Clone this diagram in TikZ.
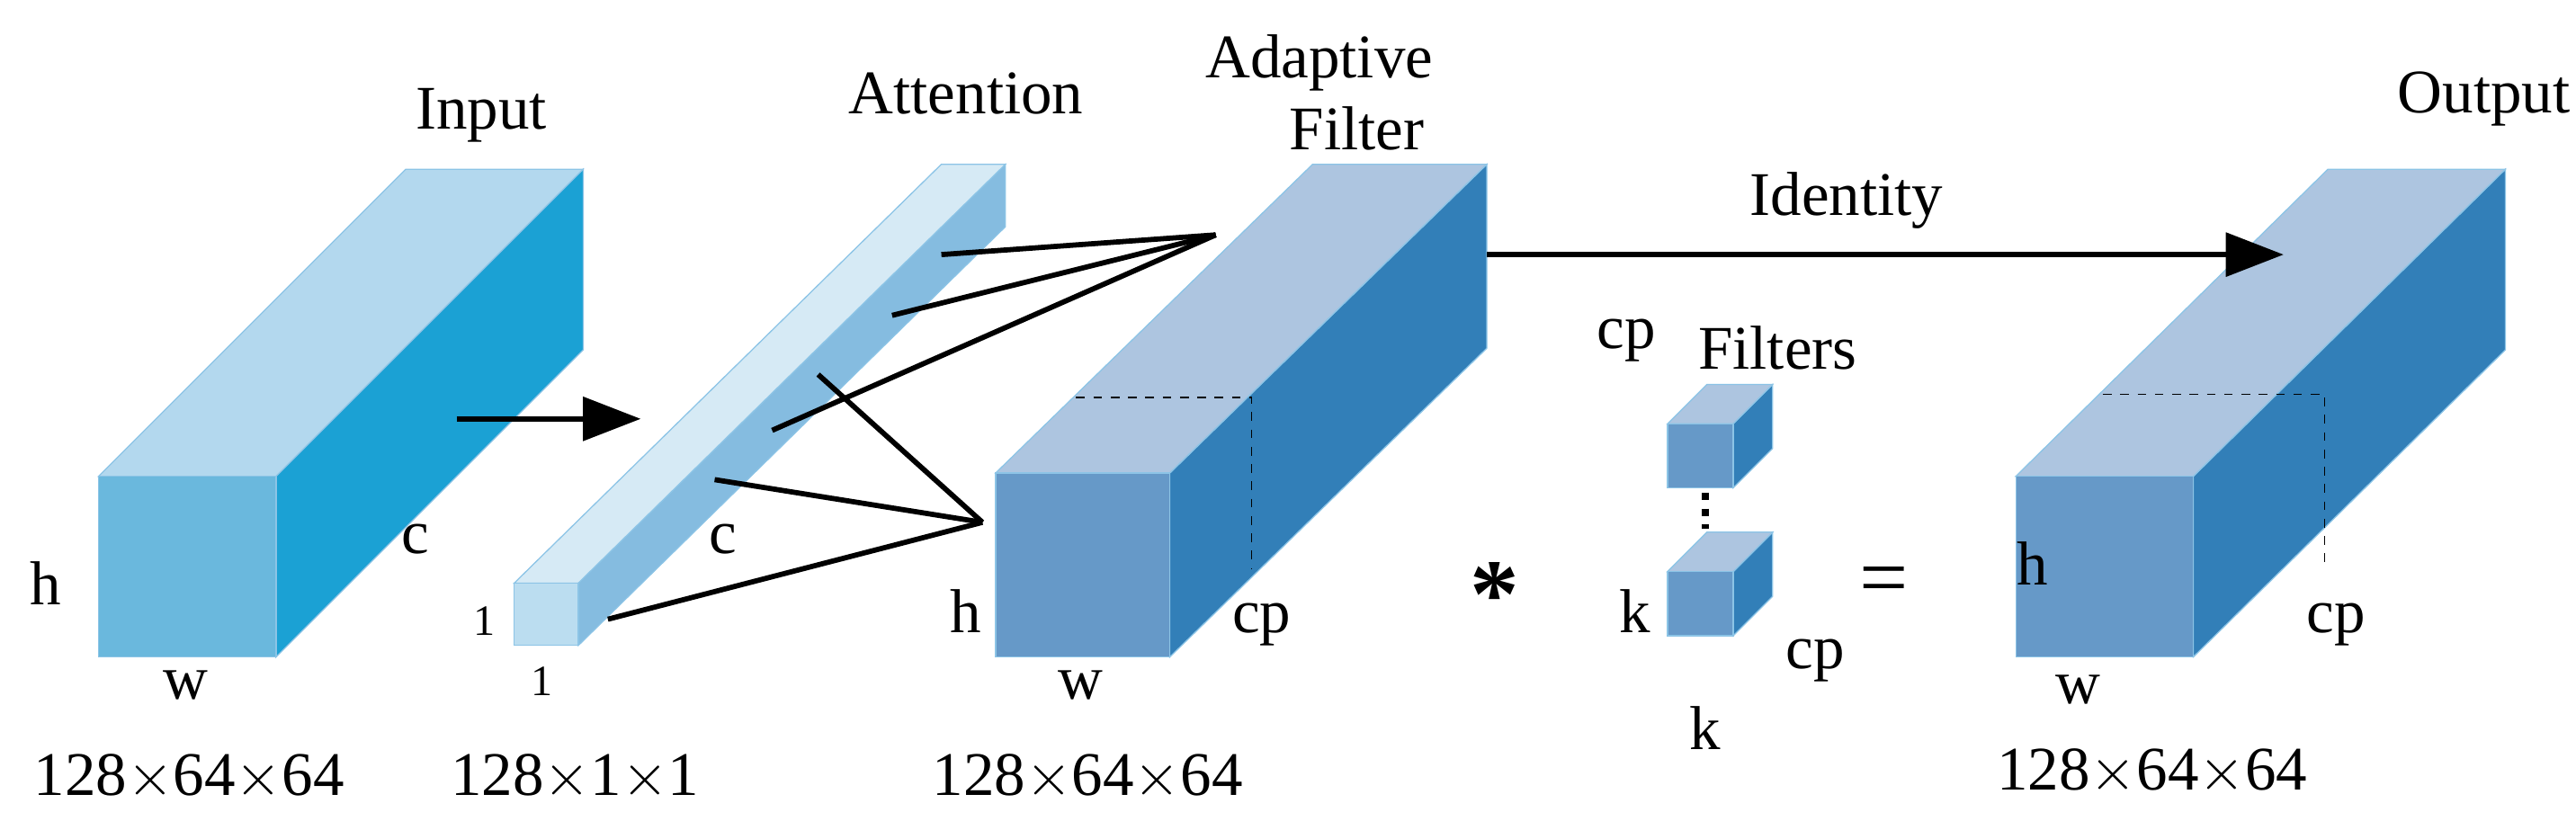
\documentclass[tikz,border=0pt]{standalone}
\usepackage{fontspec}
\setmainfont{Liberation Serif}
\usetikzlibrary{arrows.meta}
\definecolor{inFront}{HTML}{6AB8DD}
\definecolor{inTop}{HTML}{B3D8EE}
\definecolor{inSide}{HTML}{1BA1D4}
\definecolor{atFront}{HTML}{BBDDF0}
\definecolor{atTop}{HTML}{D6EAF5}
\definecolor{atSide}{HTML}{85BCE0}
\definecolor{afFront}{HTML}{6699C8}
\definecolor{afTop}{HTML}{ADC5E0}
\definecolor{afSide}{HTML}{327FB8}
\definecolor{edge}{HTML}{8CC4E6}
% cuboid: x y (front top-left), w h, dx dy (depth), front, top, side
\newcommand{\cuboid}[9]{%
\fill[#9,draw=edge,thin] (#1+#3,#2) -- (#1+#3+#5,#2-#6) -- (#1+#3+#5,#2+#4-#6) -- (#1+#3,#2+#4) -- cycle;
\fill[#8,draw=edge,thin] (#1,#2) -- (#1+#5,#2-#6) -- (#1+#3+#5,#2-#6) -- (#1+#3,#2) -- cycle;
\fill[#7,draw=edge,thin] (#1,#2) rectangle (#1+#3,#2+#4);}
\begin{document}
\begin{tikzpicture}[x=0.02cm,y=-0.02cm,
  every node/.style={font=\fontsize{21.5}{24}\selectfont,inner sep=0pt},
  link/.style={line width=1.8pt},
  flow/.style={line width=1.8pt,-{Triangle[length=20pt,width=15pt]}}]
\useasboundingbox (0,0) rectangle (1568,505);
% blocks
\cuboid{60}{290}{108}{110}{187}{187}{inFront}{inTop}{inSide}
\cuboid{313}{355}{39}{38}{260}{255}{atFront}{atTop}{atSide}
\cuboid{606}{288}{106}{112}{193}{188}{afFront}{afTop}{afSide}
\cuboid{1227}{290}{108}{110}{190}{187}{afFront}{afTop}{afSide}
\cuboid{1015}{258}{40}{39}{24}{24}{afFront}{afTop}{afSide}
\cuboid{1015}{348}{40}{39}{24}{24}{afFront}{afTop}{afSide}
\draw[dashed,thin] (655,242) -- (762,242) -- (762,346);
\draw[dashed,thin] (1280,240) -- (1415,240) -- (1415,345);
\draw[line width=2.5pt,dash pattern=on 2.5pt off 3pt] (1038,300) -- (1038,322);
% anchor points
\coordinate (a1) at (573,155);
\coordinate (a2) at (543,192);
\coordinate (a3) at (470,262);
\coordinate (a4) at (498,228);
\coordinate (a5) at (435,292);
\coordinate (a6) at (370,377);
\coordinate (fTop) at (740,143);
\coordinate (fLow) at (598,318);
\coordinate (inOut) at (278,255);
\coordinate (atIn) at (390,255);
\coordinate (afOut) at (905,155);
\coordinate (outIn) at (1390,155);
\foreach \p in {a1,a2,a3} \draw[link] (\p) -- (fTop);
\foreach \p in {a4,a5,a6} \draw[link] (\p) -- (fLow);
\draw[flow] (inOut) -- (atIn);
\draw[flow] (afOut) -- (outIn);
% labels
\node (tIn) at (293,70) {Input};
\node (tAt) at (588,57) {Attention};
\node (tAd) at (803,38) {Adaptive};
\node (tFi) at (826,78) {Filter};
\node (tId) at (1124,122) {Identity};
\node (tOut) at (1512,60) {Output};
\node at (28,355) {h};
\node at (253,328) {c};
\node at (113,417) {w};
\node at (115,473) {128$\times$64$\times$64};
\node[font=\fontsize{15}{17}\selectfont] at (295,378) {1};
\node[font=\fontsize{15}{17}\selectfont] at (330,415) {1};
\node at (440,328) {c};
\node at (350,473) {128$\times$1$\times$1};
\node at (588,372) {h};
\node at (658,417) {w};
\node at (768,380) {cp};
\node at (662,473) {128$\times$64$\times$64};
\node[font=\fontsize{34}{36}\selectfont\bfseries] at (910,362) {*};
\node at (990,207) {cp};
\node at (1082,212) {Filters};
\node at (995,372) {k};
\node at (1038,443) {k};
\node at (1105,402) {cp};
\node[font=\fontsize{30}{32}\selectfont] at (1147,357) {=};
\node at (1237,343) {h};
\node at (1265,420) {w};
\node at (1422,380) {cp};
\node at (1310,470) {128$\times$64$\times$64};
\end{tikzpicture}
\end{document}
